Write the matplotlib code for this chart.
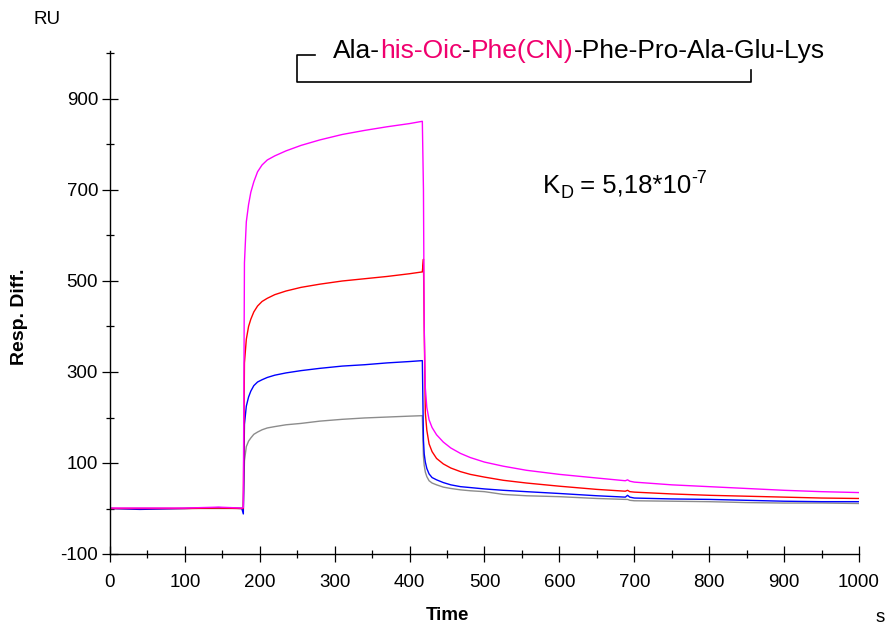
import matplotlib
matplotlib.use("Agg")
import matplotlib.pyplot as plt
from matplotlib.lines import Line2D

plt.rcParams['font.family'] = ['Liberation Sans', 'DejaVu Sans']
plt.rcParams['axes.unicode_minus'] = False

# Sensorgram: time (s) and response difference (RU) for four analyte concentrations
time_s = [0, 40, 100, 145, 176, 178,
          179.5, 182, 185, 188, 192, 197, 203, 210, 220, 235,
          255, 280, 310, 340, 370, 400, 417,
          418.5, 419.5, 421, 423, 426, 430, 436, 445, 455, 468,
          481, 500, 525, 556, 600, 650, 688, 691, 694, 700,
          750, 800, 850, 900, 950, 1000]

resp_magenta = [1, 1, 1, 3, 1, 2,
                540, 630, 668, 695, 718, 740, 755, 766, 775, 786,
                798, 810, 822, 831, 839, 846, 851,
                700, 400, 265, 222, 195, 178, 162, 146, 133, 121,
                112, 102, 93, 84, 75, 67, 61, 63, 60, 58,
                52, 48, 44, 40, 37, 35]

resp_red = [0, 0, 0, 1, 0, 0,
            320, 372, 400, 416, 432, 445, 455, 462, 470, 478,
            486, 493, 500, 505, 510, 516, 520,
            548, 400, 210, 172, 142, 125, 110, 98, 89, 81,
            75, 69, 62, 56, 49, 42, 38, 40, 37, 36,
            32, 29, 27, 25, 23, 22]

resp_blue = [0, -2, 0, 2, 0, -12,
             185, 225, 245, 258, 270, 278, 283, 288, 293, 298,
             303, 308, 313, 316, 320, 323, 325,
             150, 120, 102, 88, 76, 68, 63, 57, 52, 48,
             46, 43, 40, 37, 33, 28, 25, 29, 25, 23,
             21, 20, 18, 16, 15, 15]

resp_gray = [0, 0, 0, 0, 0, 0,
             105, 136, 148, 155, 163, 168, 173, 177, 180, 184,
             187, 192, 196, 199, 201, 203, 204,
             114, 95, 80, 70, 61, 56, 52, 47, 44, 41,
             39, 37, 31, 28, 26, 22, 20, 20, 18, 17,
             16, 15, 13, 12, 12, 11]

x_major = list(range(0, 1001, 100))
x_minor = list(range(50, 1000, 100))
y_major = [-100, 100, 300, 500, 700, 900]
y_minor = [0, 200, 400, 600, 800, 1000]

peptide_parts = [("Ala-", "black"), ("his-Oic", "#F0006E"), ("-", "black"),
                 ("Phe(CN)", "#F0006E"), ("-Phe-Pro-Ala-Glu-Lys", "black")]
# (text, font size, baseline shift in px)
kd_parts = [("K", 18.5, 0), ("D", 13, -5), (" = 5,18*10", 18.5, 0), ("-7", 13, 10)]

W, H = 887, 626


def fx(px):
    return px / W


def fy(py):
    return 1 - py / H


fig = plt.figure(figsize=(W / 100, H / 100), dpi=100)
ax = fig.add_axes([fx(110), fy(554), 749 / W, 1105 * 0.455 / H])

series = [(resp_gray, "#8C8C8C"), (resp_blue, "#0000FF"),
          (resp_red, "#FF0000"), (resp_magenta, "#FF00FF")]
for vals, col in series:
    ax.plot(time_s, vals, color=col, lw=1.0, solid_joinstyle="round")

ax.set_xlim(0, 1000)
ax.set_ylim(-100, 1005)
ax.set_xticks(x_major)
ax.set_xticks(x_minor, minor=True)
ax.set_yticks(y_major)
ax.set_yticks(y_minor, minor=True)
ax.set_yticklabels([str(v) for v in y_major])
for s in ("top", "right"):
    ax.spines[s].set_visible(False)
for s in ("left", "bottom"):
    ax.spines[s].set_linewidth(1.0)
ax.tick_params(which="major", direction="inout", length=11, width=0.9,
               labelsize=13.5, pad=3)
ax.tick_params(which="minor", direction="inout", length=6, width=0.9)
ax.tick_params(axis="x", which="major", pad=9)

fig.text(fx(47), fy(20), "RU", fontsize=13.5, ha="center", va="center")
fig.text(fx(20), fy(317), "Resp. Diff.", fontsize=14, fontweight="bold",
         rotation=90, ha="center", va="center")
fig.text(fx(447), fy(615), "Time", fontsize=13.5, fontweight="bold",
         ha="center", va="center")
fig.text(fx(880), fy(618), "s", fontsize=13.5, ha="center", va="center")
# header strip text running off the top edge
fig.text(fx(426), fy(4), "Time", fontsize=13.5, fontweight="bold",
         ha="center", va="bottom")
fig.text(fx(884), fy(4), "s", fontsize=13.5, ha="center", va="bottom")

renderer = fig.canvas.get_renderer()

# peptide sequence, drawn piece by piece to colour the modified residues
xpos = fx(333)
for txt, col in peptide_parts:
    t = fig.text(xpos, fy(58), txt, fontsize=19, color=col,
                 ha="left", va="baseline")
    xpos = t.get_window_extent(renderer=renderer).x1 / W

# cyclisation bracket
bx = [fx(315), fx(297), fx(297), fx(751), fx(751)]
by = [fy(55), fy(55), fy(82), fy(82), fy(70)]
fig.add_artist(Line2D(bx, by, color="black", lw=1.2,
                      transform=fig.transFigure))

# dissociation constant with sub- and superscript
xpos = fx(543)
for txt, size, shift in kd_parts:
    t = fig.text(xpos, fy(193 - shift), txt, fontsize=size,
                 ha="left", va="baseline")
    xpos = t.get_window_extent(renderer=renderer).x1 / W

fig.savefig("out.png", dpi=100)
